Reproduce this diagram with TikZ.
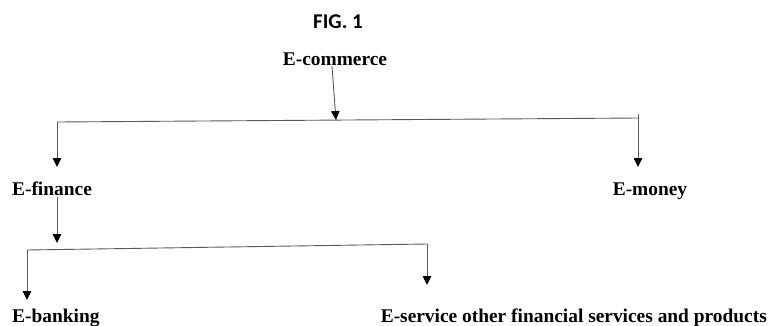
\documentclass[tikz,border=0pt]{standalone}
\usepackage{fontspec}
\setmainfont{Liberation Serif}
\newfontfamily\figfont{Carlito}
\usetikzlibrary{arrows.meta}
\begin{document}
\begin{tikzpicture}[x=1pt,y=-1pt,
  lbl/.style={inner sep=0pt,anchor=base,font=\fontsize{19.4}{22}\selectfont\bfseries},
  conn/.style={draw=black!65,line width=0.9pt},
  arr/.style={conn,-{Triangle[width=8.5pt,length=9pt,fill=black,color=black]}}]
\useasboundingbox (0,0) rectangle (771,325);
\node[inner sep=0pt,anchor=base,font=\figfont\bfseries\fontsize{21}{24}\selectfont] (fig) at (338,28) {FIG. 1};
\node[lbl] (ecom) at (335,65) {E-commerce};
\node[lbl] (efin) at (52,195) {E-finance};
\node[lbl] (emon) at (650,195) {E-money};
\node[lbl,anchor=base west] (ebank) at (12,322) {E-banking};
\node[lbl,anchor=base east] (eserv) at (767,322) {E-service other financial services and products};
% first level bar
\coordinate (b1l) at (57,122);
\coordinate (b1m) at (336,120);
\coordinate (b1r) at (638,118);
\coordinate (b1rt) at (638,114);
\coordinate (t1l) at (57,167);
\coordinate (t1r) at (638,167);
\draw[conn] (b1l) -- (b1r);
\draw[arr] (ecom.south -| 332,0) ++(0,1) -- (b1m);
\draw[arr] (b1l) -- (t1l);
\draw[arr] (b1rt) -- (t1r);
% second level
\coordinate (f1) at (57,200);
\coordinate (f2) at (57,243);
\coordinate (b2l) at (27,250);
\coordinate (b2r) at (427,244);
\coordinate (t2l) at (27,300);
\coordinate (t2r) at (427,285);
\draw[arr] (efin.south -| f1) ++(0,2) -- (f2);
\draw[conn] (b2l) -- (b2r);
\draw[arr] (b2l) -- (t2l);
\draw[arr] (b2r) -- (t2r);
\end{tikzpicture}
\end{document}
